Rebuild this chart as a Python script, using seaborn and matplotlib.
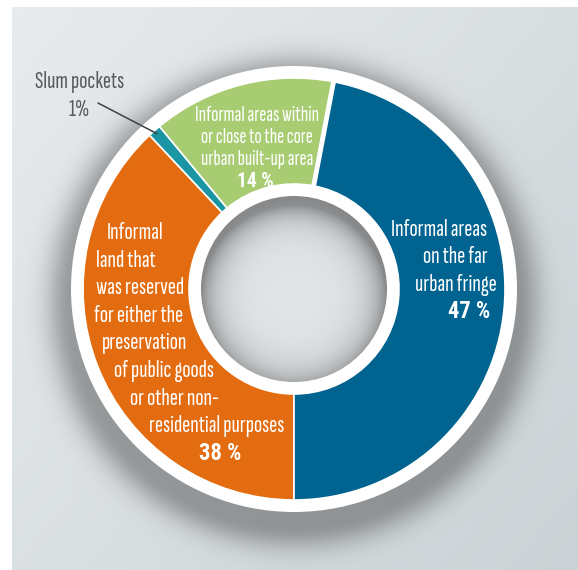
import numpy as np
import matplotlib
matplotlib.use("Agg")
import matplotlib.pyplot as plt
from matplotlib import font_manager
from matplotlib.font_manager import FontProperties
from matplotlib.textpath import TextPath
from matplotlib.patches import Circle
import seaborn as sns

# --- data -------------------------------------------------------------
categories = [
    "Informal land that was reserved for either the preservation of public goods or other non-residential purposes",
    "Slum pockets",
    "Informal areas within or close to the core urban built-up area",
    "Informal areas on the far urban fringe",
]
shares = [38, 1, 14, 47]
slice_colors = ["#e46c10", "#1a95a3", "#a8cc72", "#01638f"]

orange_lines = ["Informal", "land that", "was reserved", "for either the", "preservation",
                "of public goods", "or other non-", "residential purposes"]
green_lines = ["Informal areas within", "or close to the core", "urban built-up area"]
blue_lines = ["Informal areas", "on the far", "urban fringe"]
slum_lines = ["Slum pockets"]

# --- fonts --------------------------------------------------------------
sns.set_theme(style="white")
ttf = font_manager.fontManager.ttflist
names = {f.name for f in ttf}
candidates = ["Sofia Sans Extra Condensed", "BenchNine", "Roboto Condensed", "DejaVu Sans"]
family = next(f for f in candidates if f in names)


def has_bold(name):
    for f in ttf:
        if f.name == name:
            w = f.weight
            if isinstance(w, str):
                if w.lower() in ("bold", "semibold", "demibold", "heavy", "black", "extra bold"):
                    return True
            elif w >= 600:
                return True
    return False


bold_family = next(f for f in [family, "Sofia Sans Condensed", "Roboto Condensed", "DejaVu Sans"]
                   if f in names and has_bold(f))
plt.rcParams["font.family"] = [family, "DejaVu Sans"]


def cap_em(fam, weight="normal"):
    fp = FontProperties(family=fam, weight=weight)
    return TextPath((0, 0), "I", size=1, prop=fp).get_extents().height


def size_for_cap(px, fam=family, weight="normal"):
    """Font size in points that gives a capital height of `px` pixels at 100 dpi."""
    return px / cap_em(fam, weight) * 0.72


# --- canvas in pixel units (y measured from the top) ----------------------
W, H = 578, 570
fig = plt.figure(figsize=(W / 100, H / 100), dpi=100)
ax = fig.add_axes([0, 0, 1, 1])


def Y(y):
    return H - y


cx, cy = 294, 289
r_ring, r_out, r_in, r_hole = 223, 211, 105, 93

# panel background with soft gradient and drop shadow under the ring
px0, py0 = 12, 7
xs = np.arange(px0, W) + 0.5
ys = np.arange(py0, H) + 0.5
XX, YY = np.meshgrid(xs, ys)
t = 0.55 * (XX / W) + 0.45 * (YY / H)
c0 = np.array([233, 236, 238]) / 255
c1 = np.array([203, 210, 213]) / 255
bg = c0[None, None, :] + (c1 - c0)[None, None, :] * t[..., None]
d = np.hypot(XX - cx, YY - (cy + 14)) - r_ring
shade = 0.32 * np.exp(-(np.clip(d, 0, None) / 24.0) ** 2)
bg = bg * (1 - shade[..., None])
ax.imshow(bg, extent=(px0, W, Y(H), Y(py0)), origin="upper", zorder=0, interpolation="bilinear")

# white outer ring
ax.add_patch(Circle((cx, Y(cy)), r_ring, facecolor="white", edgecolor="none", zorder=1))

# donut slices
wedges, _ = ax.pie(shares, colors=slice_colors, radius=r_out, center=(cx, Y(cy)),
                   startangle=-90, counterclock=False, frame=True,
                   wedgeprops=dict(width=r_out - r_in, edgecolor="white", linewidth=1.2))
for w in wedges:
    w.set_zorder(2)

# wider white seam where the last slice closes the ring
seam = np.deg2rad(-90 - 360 * sum(shares[:3]) / sum(shares))
ax.plot([cx + r_in * np.cos(seam), cx + r_ring * np.cos(seam)],
        [Y(cy) + r_in * np.sin(seam), Y(cy) + r_ring * np.sin(seam)],
        color="white", lw=3.5, solid_capstyle="butt", zorder=2.5)

# white inner ring and recessed centre
ax.add_patch(Circle((cx, Y(cy)), r_in, facecolor="white", edgecolor="none", zorder=3))
hx = np.arange(cx - r_hole, cx + r_hole) + 0.5
hy = np.arange(cy - r_hole, cy + r_hole) + 0.5
HX, HY = np.meshgrid(hx, hy)
rr = np.hypot(HX - cx, HY - cy)
ds = r_hole - np.hypot(HX - cx, HY - (cy + 9))
inner = np.array([226, 229, 231]) / 255
dark = 0.33 * np.exp(-np.clip(ds, 0, None) / 15.0) + 0.08 * (rr / r_hole) ** 4
hole = inner[None, None, :] * (1 - dark[..., None])
im = ax.imshow(hole, extent=(cx - r_hole, cx + r_hole, Y(cy + r_hole), Y(cy - r_hole)),
               origin="upper", zorder=4, interpolation="bilinear")
im.set_clip_path(Circle((cx, Y(cy)), r_hole, transform=ax.transData))

ax.set_xlim(0, W)
ax.set_ylim(0, H)
ax.set_aspect("equal")
ax.axis("off")

# --- labels ---------------------------------------------------------------
big = size_for_cap(16)
small = size_for_cap(14)
big_b = size_for_cap(16, bold_family, "bold")
small_b = size_for_cap(14, bold_family, "bold")
white = "white"
bold = dict(family=[bold_family, "DejaVu Sans"], fontweight="bold")


def pct(v):
    return f"{v} %"


orange_x = [135, 126, 140, 139, 145, 164, 174, 217]
orange_y0, orange_dy = 239, 27.6
for i, (line, x) in enumerate(zip(orange_lines, orange_x)):
    ax.text(x, Y(orange_y0 + i * orange_dy), line, color=white, fontsize=big,
            ha="center", va="baseline", zorder=5)
ax.text(220, Y(orange_y0 + len(orange_lines) * orange_dy), pct(shares[0]), color=white,
        fontsize=big_b, ha="center", va="baseline", zorder=5, **bold)

green_y0, green_dy = 121, 22
for i, line in enumerate(green_lines):
    ax.text(257, Y(green_y0 + i * green_dy), line, color=white, fontsize=small,
            ha="center", va="baseline", zorder=5)
ax.text(255, Y(green_y0 + len(green_lines) * green_dy), pct(shares[2]), color=white,
        fontsize=small_b, ha="center", va="baseline", zorder=5, **bold)

blue_right = [487, 488, 497]
blue_y0, blue_dy = 236, 27.3
for i, (line, x) in enumerate(zip(blue_lines, blue_right)):
    ax.text(x, Y(blue_y0 + i * blue_dy), line, color=white, fontsize=big,
            ha="right", va="baseline", zorder=5)
ax.text(490, Y(blue_y0 + len(blue_lines) * blue_dy), pct(shares[3]), color=white,
        fontsize=big_b, ha="right", va="baseline", zorder=5, **bold)

# slum pockets call-out, leader line ends on the middle of its slice
grey = "#5a5a5a"
ax.text(80, Y(88), slum_lines[0], color=grey, fontsize=big, ha="center", va="baseline", zorder=5)
ax.text(79, Y(116), f"{shares[1]}%", color=grey, fontsize=big, ha="center", va="baseline", zorder=5)
frac_mid = (shares[0] + shares[1] / 2) / sum(shares)
ang = np.deg2rad(-90 - 360 * frac_mid)
tip = (cx + (r_out - 4) * np.cos(ang), Y(cy) + (r_out - 4) * np.sin(ang))
ax.annotate("", xy=tip, xytext=(98, Y(103)),
            arrowprops=dict(arrowstyle="-", color="#404040", lw=1.1, shrinkA=0, shrinkB=0), zorder=5)

fig.savefig("out.png", dpi=100)
